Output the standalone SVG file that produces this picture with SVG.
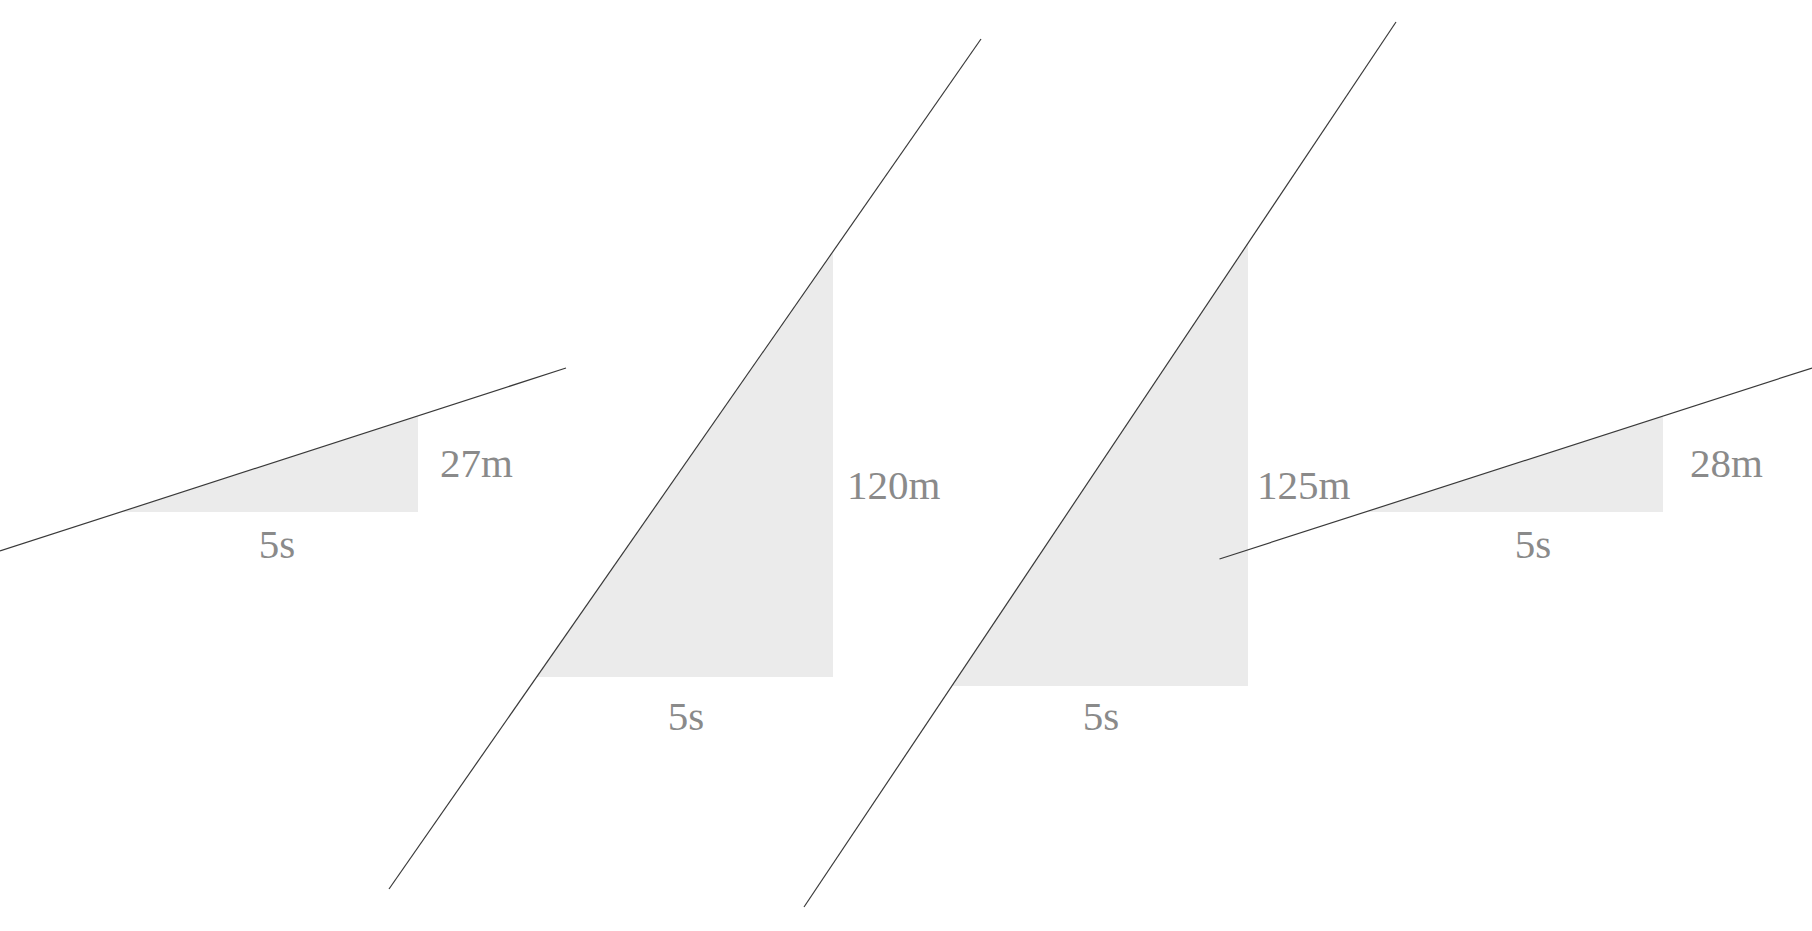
<svg xmlns="http://www.w3.org/2000/svg" width="1812" height="931" viewBox="0 0 1812 931">
<style>
.tri{fill:#ebebeb;stroke:none}
.ln{stroke:#3a3a3a;stroke-width:1.2;fill:none}
.lbl{font-family:"Liberation Serif","DejaVu Serif",serif;font-size:41px;fill:#8a8a8a}
.mid{text-anchor:middle}
</style>
<rect width="1812" height="931" fill="#ffffff"/>
<g id="tri1">
<polygon class="tri" points="121,512 418,512 418,416"/>
<text class="lbl" x="440" y="477">27m</text>
<text class="lbl mid" x="277" y="558">5s</text>
</g>
<g id="tri2">
<polygon class="tri" points="537,677 833,677 833,253"/>
<text class="lbl" x="847" y="499">120m</text>
<text class="lbl mid" x="686" y="730">5s</text>
</g>
<g id="tri3">
<polygon class="tri" points="952,686 1248,686 1248,243"/>
<text class="lbl" x="1257" y="499">125m</text>
<text class="lbl mid" x="1101" y="730">5s</text>
</g>
<g id="tri4">
<polygon class="tri" points="1365,512 1663,512 1663,416"/>
<text class="lbl" x="1690" y="477">28m</text>
<text class="lbl mid" x="1533" y="558">5s</text>
</g>
<g id="connectors">
<line class="ln" x1="0" y1="551" x2="566" y2="368"/>
<line class="ln" x1="389" y1="889" x2="981" y2="39"/>
<line class="ln" x1="804" y1="907" x2="1396" y2="22"/>
<line class="ln" x1="1219.5" y1="559" x2="1812" y2="368"/>
</g>
</svg>
